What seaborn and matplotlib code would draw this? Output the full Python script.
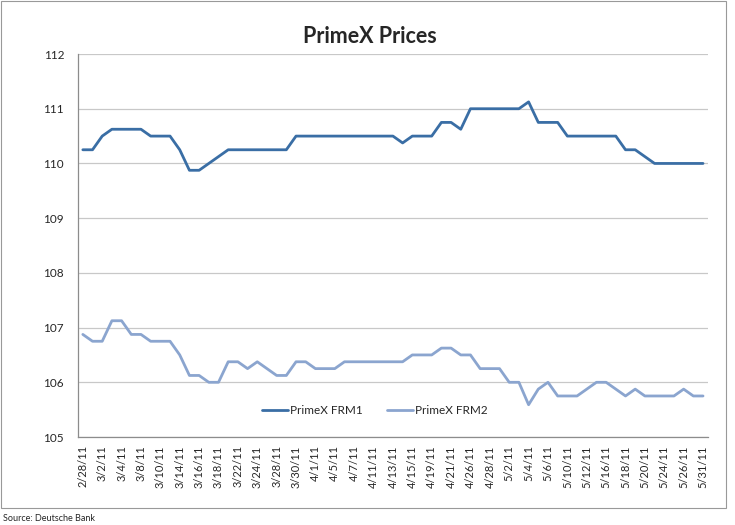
import matplotlib
matplotlib.use("Agg")
import matplotlib.pyplot as plt
import seaborn as sns
import pandas as pd
from matplotlib.patches import Rectangle

# trading days shown on the category axis
dates = ["2/28/11", "3/1/11", "3/2/11", "3/3/11", "3/4/11", "3/7/11", "3/8/11",
         "3/9/11", "3/10/11", "3/11/11", "3/14/11", "3/15/11", "3/16/11", "3/17/11",
         "3/18/11", "3/21/11", "3/22/11", "3/23/11", "3/24/11", "3/25/11", "3/28/11",
         "3/29/11", "3/30/11", "3/31/11", "4/1/11", "4/4/11", "4/5/11", "4/6/11",
         "4/7/11", "4/8/11", "4/11/11", "4/12/11", "4/13/11", "4/14/11", "4/15/11",
         "4/18/11", "4/19/11", "4/20/11", "4/21/11", "4/25/11", "4/26/11", "4/27/11",
         "4/28/11", "4/29/11", "5/2/11", "5/3/11", "5/4/11", "5/5/11", "5/6/11",
         "5/9/11", "5/10/11", "5/11/11", "5/12/11", "5/13/11", "5/16/11", "5/17/11",
         "5/18/11", "5/19/11", "5/20/11", "5/23/11", "5/24/11", "5/25/11", "5/26/11",
         "5/27/11", "5/31/11"]

frm1 = [110.25, 110.25, 110.5, 110.625, 110.625, 110.625, 110.625, 110.5, 110.5, 110.5,
        110.25, 109.875, 109.875, 110.0, 110.125,
        110.25, 110.25, 110.25, 110.25, 110.25, 110.25, 110.25,
        110.5, 110.5, 110.5, 110.5, 110.5, 110.5, 110.5, 110.5, 110.5, 110.5, 110.5,
        110.375, 110.5, 110.5, 110.5, 110.75, 110.75, 110.625,
        111.0, 111.0, 111.0, 111.0, 111.0, 111.0, 111.125,
        110.75, 110.75, 110.75,
        110.5, 110.5, 110.5, 110.5, 110.5, 110.5,
        110.25, 110.25, 110.125,
        110.0, 110.0, 110.0, 110.0, 110.0, 110.0]

frm2 = [106.875, 106.75, 106.75, 107.125, 107.125, 106.875, 106.875, 106.75, 106.75, 106.75,
        106.5, 106.125, 106.125, 106.0, 106.0, 106.375, 106.375, 106.25, 106.375, 106.25,
        106.125, 106.125, 106.375, 106.375, 106.25, 106.25, 106.25,
        106.375, 106.375, 106.375, 106.375, 106.375, 106.375, 106.375,
        106.5, 106.5, 106.5, 106.625, 106.625, 106.5, 106.5,
        106.25, 106.25, 106.25, 106.0, 106.0, 105.59, 105.875, 106.0,
        105.75, 105.75, 105.75, 105.875, 106.0, 106.0, 105.875, 105.75, 105.875,
        105.75, 105.75, 105.75, 105.75, 105.875, 105.75, 105.75]

series_names = ["PrimeX FRM1", "PrimeX FRM2"]
colors = ["#3a6ea5", "#8ba5cf"]

df = pd.concat([
    pd.DataFrame({"idx": range(len(dates)), "price": frm1, "series": series_names[0]}),
    pd.DataFrame({"idx": range(len(dates)), "price": frm2, "series": series_names[1]}),
])

sns.set_style("white")
plt.rcParams["font.family"] = ["Lato", "DejaVu Sans"]

fig = plt.figure(figsize=(7.35, 5.25), dpi=100)
ax = fig.add_axes([0.1061, 0.1676, 0.857, 0.7295])

sns.lineplot(data=df, x="idx", y="price", hue="series", palette=colors,
             linewidth=2.0, ax=ax)

ax.set_xlim(-0.5, len(dates) - 0.5)
ax.set_ylim(105, 112)
ax.set_yticks(range(105, 113))
ax.set_yticklabels([str(v) for v in range(105, 113)], fontsize=8.5)
ax.set_xticks(range(0, len(dates), 2))
ax.set_xticklabels(dates[::2], rotation=90, fontsize=8)
ax.set_xlabel("")
ax.set_ylabel("")

ax.grid(axis="y", color="#c8c8c8", linewidth=0.9)
ax.set_axisbelow(True)
for side in ["top", "right"]:
    ax.spines[side].set_visible(False)
for side in ["left", "bottom"]:
    ax.spines[side].set_color("#8c8c8c")
    ax.spines[side].set_linewidth(0.9)
ax.tick_params(axis="y", length=4, color="#8c8c8c", pad=6)
ax.tick_params(axis="x", length=0, pad=6)

# title centred on the whole chart box, not on the plot area
fig.text(0.503, 0.93, "PrimeX Prices", fontsize=15.5, fontweight="bold",
         ha="center", va="center")

leg = ax.legend(loc="center", bbox_to_anchor=(0.471, 0.068), ncol=2, frameon=False,
                fontsize=8.5, handlelength=2.2, columnspacing=2.0, handletextpad=0.2)

fig.patches.append(Rectangle((0.0015, 0.032), 0.986, 0.966, transform=fig.transFigure,
                             fill=False, edgecolor="#999999", linewidth=0.8))
fig.text(0.004, 0.008, "Source: Deutsche Bank", fontsize=6.5)

fig.savefig("out.png", dpi=100)
